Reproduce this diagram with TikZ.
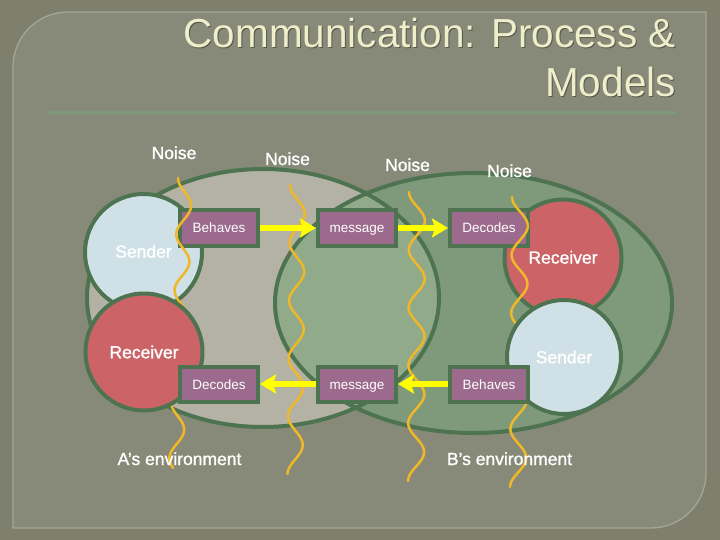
\documentclass[tikz,border=0pt]{standalone}
\usepackage{fontspec}
\setmainfont{Liberation Sans}
\newfontfamily\lblfont{Liberation Sans}[FakeBold=1.2]
\usetikzlibrary{arrows.meta}
\definecolor{outerbg}{HTML}{7E806D}
\definecolor{panelbg}{HTML}{878A78}
\definecolor{panelline}{HTML}{A4A794}
\definecolor{rulecol}{HTML}{7A9A7A}
\definecolor{titlecol}{HTML}{EEEECB}
\definecolor{titleshadow}{HTML}{55584A}
\definecolor{envAcol}{HTML}{B3B2A4}
\definecolor{envBcol}{HTML}{7F9A7A}
\definecolor{envABcol}{HTML}{90AA8A}
\definecolor{darkgreen}{HTML}{4E7351}
\definecolor{senderblue}{HTML}{CFE1E7}
\definecolor{receiverred}{HTML}{CC6467}
\definecolor{boxfill}{HTML}{9C6A8C}
\definecolor{noisecol}{HTML}{F0B828}
\definecolor{arrowcol}{HTML}{FFFF00}
\begin{document}
\begin{tikzpicture}[x=1pt,y=-1pt,
  envline/.style={draw=darkgreen,line width=4pt},
  party/.style={circle,draw=darkgreen,line width=4pt,inner sep=0pt,minimum size=117pt,text=white,font=\lblfont\fontsize{17.5}{21}\selectfont},
  stepbox/.style={rectangle,draw=darkgreen,fill=boxfill,line width=4pt,minimum width=78pt,minimum height=35pt,inner sep=0pt,text=white,font=\fontsize{13.5}{16}\selectfont,text height=10pt,text depth=0pt},
  flow/.style={draw=arrowcol,line width=6pt,-{Stealth[length=16pt,width=19pt,inset=3pt]}},
  noiseline/.style={draw=noisecol,line width=2.5pt,line cap=round},
  lbl/.style={text=white,font=\lblfont\fontsize{17.5}{21}\selectfont,inner sep=0pt,anchor=base},
  titletext/.style={font=\fontsize{40.5}{48}\selectfont,inner sep=0pt,anchor=base east}
]
\useasboundingbox (0,0) rectangle (720,540);
\fill[outerbg] (0,0) rectangle (720,540);
\draw[panelline,fill=panelbg,line width=1.3pt] (13,528) -- (13,67) .. controls (13,36.6) and (37.6,12) .. (68,12) -- (706,12) -- (706,473) .. controls (706,503.4) and (681.4,528) .. (651,528) -- cycle;

% title
\node[titletext,text=titleshadow] (t1s) at (677,49) {Communication: Process \&};
\node[titletext,text=titleshadow] (t2s) at (677,98) {Models};
\node[titletext,text=titlecol] (t1) at (676,48) {Communication: Process \&};
\node[titletext,text=titlecol] (t2) at (676,97) {Models};
\draw[rulecol,line width=3pt] (48,113) -- (676,113);

% environments
\fill[envAcol] (263,298) ellipse [x radius=176pt,y radius=129pt];
\fill[envBcol] (473.5,303) ellipse [x radius=198.5pt,y radius=130pt];
\begin{scope}
\clip (263,298) ellipse [x radius=176pt,y radius=129pt];
\fill[envABcol] (473.5,303) ellipse [x radius=198.5pt,y radius=130pt];
\end{scope}
\draw[envline] (263,298) ellipse [x radius=176pt,y radius=129pt];
\draw[envline] (473.5,303) ellipse [x radius=198.5pt,y radius=130pt];

% upper parties and boxes
\node[party,fill=senderblue] (sa) at (143.5,252.5) {\raisebox{2.5pt}{Sender}};
\node[party,fill=receiverred] (rb) at (563,258) {\raisebox{1.5pt}{Receiver}};
\node[stepbox] (bA) at (219,228) {Behaves};
\node[stepbox] (mT) at (357,228) {message};
\node[stepbox] (dB) at (489,228) {Decodes};

% noise lines
\draw[noiseline] plot[domain=0:1,samples=160,smooth,variable=\t] ({185-9*\t-7*cos(360*5.18*\t)},{178+290*\t});
\draw[noiseline] plot[domain=0:1,samples=160,smooth,variable=\t] ({297.5-2.5*\t-7.5*cos(1800*\t)},{185+289*\t});
\draw[noiseline] plot[domain=0:1,samples=160,smooth,variable=\t] ({417-1*\t-8*cos(1800*\t)},{192+289*\t});
\draw[noiseline] plot[domain=0:1,samples=160,smooth,variable=\t] ({520-2*\t-8*cos(1800*\t)},{197+290*\t});

% lower parties and boxes
\node[party,fill=receiverred] (ra) at (144,352) {Receiver};
\node[party,fill=senderblue,minimum size=114pt] (sb) at (564,357) {Sender};
\node[stepbox] (dA) at (219,384) {Decodes};
\node[stepbox] (mB) at (357,384) {message};
\node[stepbox] (bB) at (489,384) {Behaves};

% flows
\draw[flow] (bA) -- (mT);
\draw[flow] (mT) -- (dB);
\draw[flow] (bB) -- (mB);
\draw[flow] (mB) -- (dA);

% labels
\node[lbl] (n1) at (174,159) {Noise};
\node[lbl] (n2) at (287.5,165) {Noise};
\node[lbl] (n3) at (407.5,171) {Noise};
\node[lbl] (n4) at (509.5,177) {Noise};
\node[lbl] (labA) at (179.5,465) {A’s environment};
\node[lbl] (labB) at (509.5,465) {B’s environment};
\end{tikzpicture}
\end{document}
